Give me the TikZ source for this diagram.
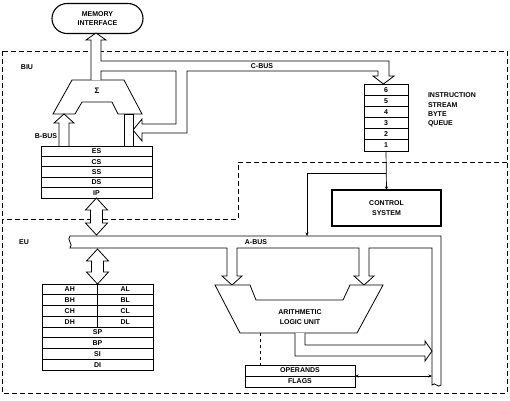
\documentclass[tikz,border=0pt]{standalone}
\usepackage{fontspec}
\setmainfont{Liberation Sans}
\usetikzlibrary{positioning,arrows.meta}

\tikzset{
  lbl/.style={font=\fontsize{7}{9.2}\selectfont\bfseries, inner sep=0pt, outer sep=0pt, align=center},
  unitline/.style={dash pattern=on 5pt off 3pt, line width=0.9pt},
  bus/.style={draw, fill=white, line width=0.8pt, line join=miter},
  box/.style={draw, lbl, line width=0.9pt},
  segrow/.style={box, minimum width=111pt, minimum height=10.4pt},
  genrow/.style={box, minimum width=111pt, minimum height=10.75pt},
  genhalf/.style={genrow, minimum width=55.5pt},
  qrow/.style={box, minimum width=44pt, minimum height=11.17pt},
  link/.style={line width=0.7pt, -{Stealth[length=3.5pt,width=3pt]}},
  tips/.style={line width=0.7pt, {Stealth[length=3.5pt,width=3pt]}-{Stealth[length=3.5pt,width=3pt]}}
}

\begin{document}
\begin{tikzpicture}[x=1pt,y=-1pt]
\useasboundingbox (0,0) rectangle (510,400);

% BIU / EU borders
\draw[unitline] (2,51) rectangle (507,393);
\draw[unitline] (507,162) -- (238,162) -- (238,219) -- (2,219);
\node[lbl] (biu) at (27,67) {BIU};
\node[lbl] (eu) at (24,242) {EU};

\node[box, line width=1.1pt, rounded corners=15pt, minimum width=91pt, minimum height=30pt] (mem) at (97.5,18.5) {MEMORY\\INTERFACE};

% adder
\draw[bus] (72,80) -- (124,80) -- (142,114) -- (118,114) -- (112,102) -- (82,102) -- (75,114) -- (53,114) -- cycle;
\node[lbl, font=\fontsize{8}{8}\selectfont\bfseries] (sum) at (97,91) {Σ};

% address out and C-BUS
\draw[bus] (91,80) -- (91,40) -- (86,40) -- (96,33) -- (106,40) -- (101,40) -- (101,61)
  -- (389,61) -- (389,76) -- (394,76) -- (383.5,84) -- (373,76) -- (378,76) -- (378,71)
  -- (187,71) -- (187,133) -- (142,133) -- (142,141) -- (133,130) -- (142,119) -- (142,124)
  -- (176,124) -- (176,71) -- (101,71) -- (101,80);
\node[lbl] (cbus) at (262,66) {C-BUS};

% B-BUS
\draw[bus] (59,146) -- (59,123) -- (54,123) -- (64,114) -- (74,123) -- (69,123) -- (69,146);
\draw[bus] (124,146) -- (124,114) -- (133,114) -- (133,146);
\node[lbl] (bbus) at (46,136) {B-BUS};

% segment registers
\node[segrow] (es) at (96.5,151.2) {ES};
\node[segrow, below=0pt of es] (cs) {CS};
\node[segrow, below=0pt of cs] (ss) {SS};
\node[segrow, below=0pt of ss] (ds) {DS};
\node[segrow, below=0pt of ds] (ip) {IP};

% instruction queue
\node[qrow] (q6) at (386,89.6) {6};
\node[qrow, below=0pt of q6] (q5) {5};
\node[qrow, below=0pt of q5] (q4) {4};
\node[qrow, below=0pt of q4] (q3) {3};
\node[qrow, below=0pt of q3] (q2) {2};
\node[qrow, below=0pt of q2] (q1) {1};
\node[lbl, align=left, anchor=north west] (qlbl) at (428,93) {INSTRUCTION\\STREAM\\BYTE\\QUEUE};

\node[box, line width=1.1pt, minimum width=109pt, minimum height=36pt] (ctrl) at (386.5,208) {CONTROL\\SYSTEM};
\path (q1.south) -- (ctrl.north) coordinate[pos=0.56] (tap);
\coordinate (ain) at (307,236);
\draw[link] (q1.south) -- (ctrl.north);
\draw[link] (tap) -| (ain);

% A-BUS
\draw[bus] (70,236) -- (441,236) -- (441,385) .. controls (438,389) and (435,381) .. (432,385)
  -- (432,248) -- (369,248) -- (369,276) -- (374,276) -- (364,285) -- (354,276) -- (359,276)
  -- (359,248) -- (237,248) -- (237,276) -- (242,276) -- (232,285) -- (222,276) -- (227,276)
  -- (227,248) -- (70,248) .. controls (74,244) and (66,240) .. cycle;
\node[lbl] (abus) at (256,242) {A-BUS};

% BIU <-> A-BUS <-> registers
\draw[bus] (ip.south) -- ++(11,12) -- ++(-5,0) -- ++(0,13) -- ++(5,0) -- ++(-11,12)
  -- ++(-11,-12) -- ++(5,0) -- ++(0,-13) -- ++(-5,0) -- cycle;

% general registers
\node[genhalf] (ah) at (69.75,289.4) {AH};
\node[genhalf, right=0pt of ah] (al) {AL};
\node[genhalf, below=0pt of ah] (bh) {BH};
\node[genhalf, right=0pt of bh] (bl) {BL};
\node[genhalf, below=0pt of bh] (ch) {CH};
\node[genhalf, right=0pt of ch] (cl) {CL};
\node[genhalf, below=0pt of ch] (dh) {DH};
\node[genhalf, right=0pt of dh] (dl) {DL};
\node[genrow, below=0pt of dh.south east] (sp) {SP};
\node[genrow, below=0pt of sp] (bp) {BP};
\node[genrow, below=0pt of bp] (si) {SI};
\node[genrow, below=0pt of si] (di) {DI};

\draw[bus] (ah.north east) -- ++(11,-12) -- ++(-5,0) -- ++(0,-11) -- ++(5,0) -- ++(-11,-12)
  -- ++(-11,12) -- ++(5,0) -- ++(0,11) -- ++(-5,0) -- cycle;

% ALU
\draw[bus] (215,285) -- (250,285) -- (256,300) -- (343,300) -- (350,285) -- (383,285) -- (357,333) -- (240,333) -- cycle;
\node[lbl] (alu) at (300,317) {ARITHMETIC\\LOGIC UNIT};
\draw[bus] (305,333) -- (305,345) -- (425,345) -- (425,341) -- (432,351) -- (425,361) -- (425,356) -- (295,356) -- (295,333);

% operands and flags
\node[box, minimum width=110pt, minimum height=11pt] (opr) at (300,370.5) {OPERANDS};
\node[box, minimum width=110pt, minimum height=11pt, below=0pt of opr] (flg) {FLAGS};
\coordinate (alub) at (260,333);
\coordinate (bflag) at (432,376);
\draw[dashed, line width=0.7pt] (alub) -- (alub |- opr.north);
\draw[tips] (opr.south east) -- (bflag);

\end{tikzpicture}
\end{document}
